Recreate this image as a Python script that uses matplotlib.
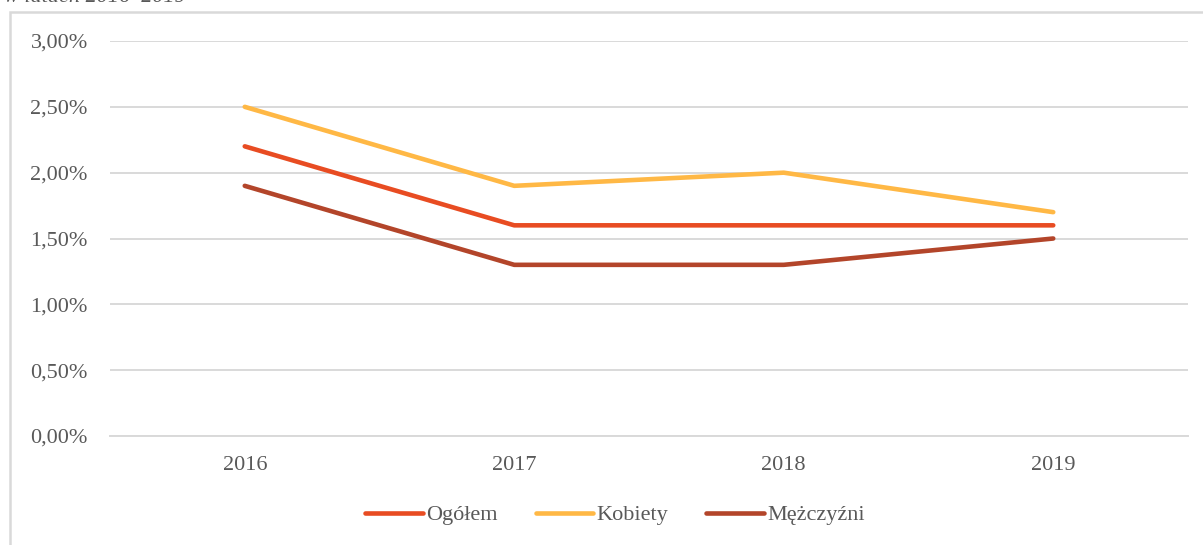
import matplotlib.pyplot as plt
from matplotlib.patches import Rectangle
from matplotlib.ticker import FuncFormatter

# data
years = ["2016", "2017", "2018", "2019"]
ogolem = [2.2, 1.6, 1.6, 1.6]
kobiety = [2.5, 1.9, 2.0, 1.7]
mezczyzni = [1.9, 1.3, 1.3, 1.5]

plt.rcParams['font.family'] = ['Liberation Serif', 'DejaVu Serif']

fig = plt.figure(figsize=(12.03, 5.45), dpi=100)

# outer chart frame (cut off at right and bottom)
fig.patches.append(Rectangle((10 / 1203, -0.1), 1.2, 1 - 12 / 545 + 0.1,
                             transform=fig.transFigure, fill=False,
                             edgecolor='#d9d9d9', linewidth=1.8))
# title cut off at the top
fig.text(4 / 1203, 1 - 2 / 545, "w latach 2016–2019", fontsize=16, color='#595959',
         style='italic', va='baseline', ha='left')

ax = fig.add_axes([110 / 1203, 0.2, (1188 - 110) / 1203, (436 - 41) / 545])

x = range(len(years))
ax.plot(x, ogolem, color='#E84C22', lw=3.3, label='Ogółem', solid_capstyle='round')
ax.plot(x, kobiety, color='#FFB845', lw=3.3, label='Kobiety', solid_capstyle='round')
ax.plot(x, mezczyzni, color='#B3452A', lw=3.3, label='Mężczyźni', solid_capstyle='round')

ax.set_xlim(-0.5, 3.5)
ax.set_ylim(0, 3.0)
ax.set_yticks([0, 0.5, 1.0, 1.5, 2.0, 2.5, 3.0])
ax.yaxis.set_major_formatter(FuncFormatter(lambda v, p: f"{v:.2f}%".replace('.', ',')))
ax.set_xticks(list(x))
ax.set_xticklabels(years)
ax.grid(axis='y', color='#d9d9d9', lw=1.4)
ax.set_axisbelow(True)
for s in ['top', 'right', 'left']:
    ax.spines[s].set_visible(False)
ax.spines['bottom'].set_color('#d9d9d9')
ax.spines['bottom'].set_linewidth(1.4)
ax.tick_params(axis='both', length=0, labelsize=16, labelcolor='#595959')
ax.tick_params(axis='y', pad=16)
ax.tick_params(axis='x', pad=14.5)

fig.legend(loc='center', bbox_to_anchor=(615 / 1203, 1 - 515 / 545), ncol=3,
           frameon=False, fontsize=16, labelcolor='#595959', handlelength=2.6,
           handletextpad=0.15, columnspacing=1.7)

fig.savefig("out.png", dpi=100)
